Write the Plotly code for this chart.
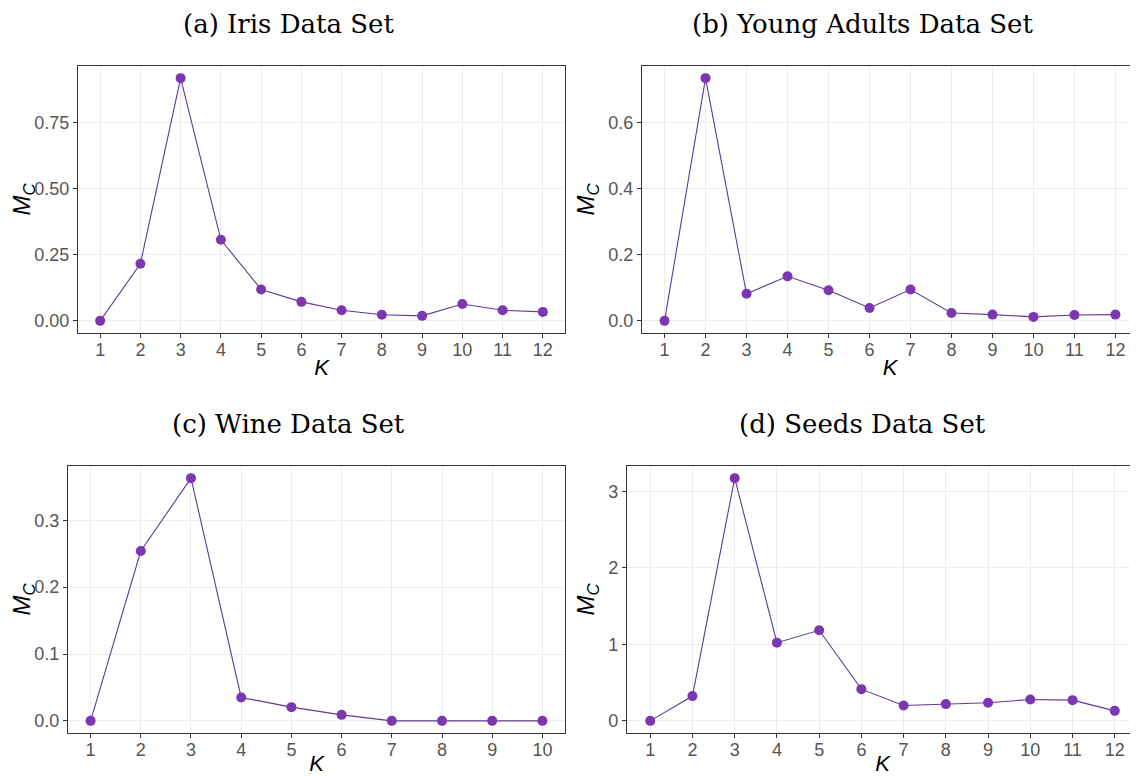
import plotly.graph_objects as go

titles = ["(a) Iris Data Set", "(b) Young Adults Data Set", "(c) Wine Data Set", "(d) Seeds Data Set"]

k12 = list(range(1, 13))
k10 = list(range(1, 11))

iris_mc = [0.0, 0.216, 0.919, 0.307, 0.119, 0.072, 0.040, 0.023, 0.019, 0.064, 0.040, 0.034]
young_mc = [0.0, 0.736, 0.082, 0.135, 0.093, 0.039, 0.095, 0.024, 0.019, 0.012, 0.018, 0.019]
wine_mc = [0.0, 0.254, 0.363, 0.035, 0.0205, 0.009, 0.0, 0.0, 0.0, 0.0]
seeds_mc = [0.0, 0.324, 3.175, 1.023, 1.185, 0.415, 0.201, 0.219, 0.236, 0.280, 0.271, 0.131]

iris_yticks = [0.0, 0.25, 0.5, 0.75]
iris_ytext = ["0.00", "0.25", "0.50", "0.75"]
young_yticks = [0.0, 0.2, 0.4, 0.6]
young_ytext = ["0.0", "0.2", "0.4", "0.6"]
wine_yticks = [0.0, 0.1, 0.2, 0.3]
wine_ytext = ["0.0", "0.1", "0.2", "0.3"]
seeds_yticks = [0, 1, 2, 3]
seeds_ytext = ["0", "1", "2", "3"]

panels = [
    (k12, iris_mc, iris_yticks, iris_ytext),
    (k12, young_mc, young_yticks, young_ytext),
    (k10, wine_mc, wine_yticks, wine_ytext),
    (k12, seeds_mc, seeds_yticks, seeds_ytext),
]

# page body has an 8px margin, so work in reference pixels shifted by 8
OFF = 8
W, H = 1138 - OFF, 776 - OFF
# plot-area pixel boxes in reference coords: (left, right, top, bottom)
boxes = [
    (78, 565, 66, 333),
    (642, 1140, 66, 333),
    (68, 565, 466, 733),
    (627, 1140, 466, 733),
]
# title centre x and top y in reference coords
title_pos = [(288, 8), (862, 8), (288, 408), (862, 408)]

LINE_COLOR = "#5E3A94"
MARK_COLOR = "#7B36B0"
GRID = "#EDEDED"
TICKC = "#555555"
BORDER = "#333333"
SANS = "Liberation Sans, Arial, sans-serif"

fig = go.Figure()
annotations = []

for i, (xs, ys, yt, ytt) in enumerate(panels):
    n = i + 1
    xa = "x" if n == 1 else f"x{n}"
    ya = "y" if n == 1 else f"y{n}"
    fig.add_trace(go.Scatter(
        x=xs, y=ys, mode="lines+markers",
        line=dict(color=LINE_COLOR, width=1.1),
        marker=dict(color=MARK_COLOR, size=10),
        xaxis=xa, yaxis=ya, showlegend=False, cliponaxis=False,
    ))
    l, r, t, b = [v - OFF for v in boxes[i]]
    xmin, xmax = min(xs), max(xs)
    xpad = 0.05 * (xmax - xmin)
    ymin, ymax = min(ys), max(ys)
    ypad = 0.05 * (ymax - ymin)
    xkey = "xaxis" if n == 1 else f"xaxis{n}"
    ykey = "yaxis" if n == 1 else f"yaxis{n}"
    fig.layout[xkey] = dict(
        domain=[l / W, min(r / W, 1.0)],
        anchor=ya,
        range=[xmin - xpad, xmax + xpad],
        tickmode="array", tickvals=xs, ticktext=[str(v) for v in xs],
        showgrid=True, gridcolor=GRID, gridwidth=1,
        zeroline=False,
        showline=True, linecolor=BORDER, linewidth=1.2, mirror=True,
        ticks="outside", ticklen=4, tickcolor=BORDER, tickwidth=1,
        ticklabelstandoff=-4,
        tickfont=dict(family=SANS, size=18, color=TICKC),
        title=dict(text="<i>K</i>", font=dict(family=SANS, size=22, color="black"), standoff=0),
    )
    fig.layout[ykey] = dict(
        domain=[1 - b / H, 1 - t / H],
        anchor=xa,
        range=[ymin - ypad, ymax + ypad],
        tickmode="array", tickvals=yt, ticktext=ytt,
        showgrid=True, gridcolor=GRID, gridwidth=1,
        zeroline=False,
        showline=True, linecolor=BORDER, linewidth=1.2, mirror=True,
        ticks="outside", ticklen=4, tickcolor=BORDER, tickwidth=1,
        tickfont=dict(family=SANS, size=18, color=TICKC),
        title=dict(text="<i>M</i><sub><i>C</i></sub>", font=dict(family=SANS, size=24, color="black"), standoff=6),
    )
    tx, ty = title_pos[i]
    annotations.append(dict(
        text=titles[i], x=(tx - OFF) / W, y=1 - (ty - OFF) / H, xref="paper", yref="paper",
        xanchor="center", yanchor="top", showarrow=False, borderpad=0,
        font=dict(family="DejaVu Serif, serif", size=26, color="black"),
    ))

fig.update_layout(
    width=W, height=H,
    margin=dict(l=0, r=0, t=0, b=0),
    paper_bgcolor="white", plot_bgcolor="white",
    annotations=annotations,
)

fig.write_html("out.html")
